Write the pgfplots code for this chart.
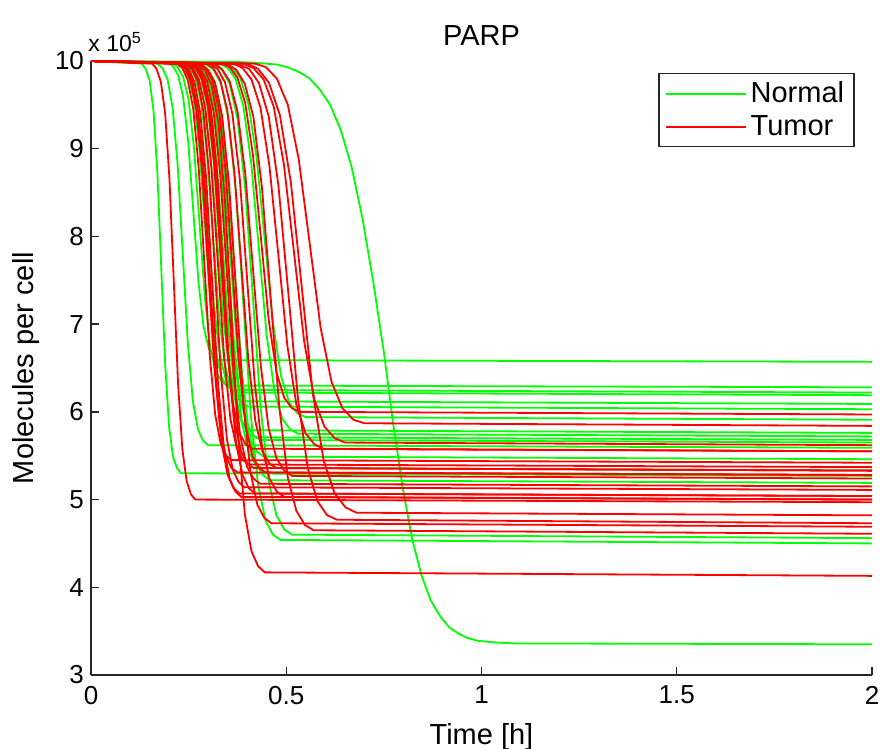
\documentclass[border=0pt]{standalone}
\usepackage{fontspec}
\setmainfont{Liberation Sans}
\usepackage{pgfplots}
\pgfplotsset{compat=1.18}
\tikzset{normal/.style={draw=green}, tumor/.style={draw=red}}
\begin{document}
\begin{tikzpicture}
\begin{axis}[
  name=ax,
  scale only axis, width=390.5pt, height=307pt,
  xmin=0, xmax=2, ymin=3, ymax=10,
  axis x line*=bottom, axis y line*=left,
  axis line style={-, line width=0.7pt, black!85},
  tick align=inside, major tick length=4pt,
  tick style={black!85, line width=0.7pt},
  xtick={0,0.5,1,1.5,2}, ytick={3,4,5,6,7,8,9,10},
  xticklabels={0,0.5,1,1.5,2},
  /pgf/number format/assume math mode=true,
  ticklabel style={font=\fontsize{13}{15}\selectfont},
  xticklabel style={yshift=-2pt},
  every axis x label/.style={at={(axis description cs:0.5,-0.114)}, anchor=base, font=\fontsize{14.5}{17}\selectfont},
  every axis y label/.style={at={(axis description cs:-0.073,0.5)}, rotate=90, anchor=base, font=\fontsize{14.5}{17}\selectfont},
  every axis title/.style={at={(axis description cs:0.5,1.026)}, anchor=base, font=\fontsize{14.5}{17}\selectfont},
  xlabel={Time [h]}, ylabel={Molecules per cell},
  title={PARP},
  clip=false,
  legend style={at={(0.978,0.9805)}, anchor=north east, draw=black!85, line width=0.7pt,
    font=\fontsize{14.5}{17}\selectfont, inner xsep=3pt, inner ysep=2pt, row sep=1pt},
  legend cell align=left,
  legend image code/.code={\path (0pt,0pt) -- (40pt,0pt); \draw[#1, line width=0.9pt] (3pt,0pt) -- (36pt,0pt);},
  every axis plot/.append style={line width=0.9pt},
]
% ---------------- Normal (green) ----------------
\addplot[normal] coordinates {(0,10) (0.13,9.97) (0.14,9.91) (0.15,9.78) (0.16,9.44) (0.17,8.73) (0.18,7.64) (0.19,6.54) (0.20,5.83) (0.21,5.49) (0.22,5.36) (0.23,5.30) (2,5.27)};
\addlegendentry{Normal}
\addplot[normal, forget plot] coordinates {(0,10) (0.170,9.97) (0.183,9.92) (0.196,9.79) (0.209,9.47) (0.222,8.81) (0.235,7.80) (0.248,6.78) (0.261,6.12) (0.274,5.80) (0.287,5.67) (0.300,5.62) (2,5.59)};
\addplot[normal, forget plot] coordinates {(0,10) (0.197,9.98) (0.210,9.94) (0.223,9.84) (0.236,9.59) (0.249,9.08) (0.262,8.29) (0.275,7.49) (0.288,6.98) (0.301,6.73) (0.314,6.63) (0.327,6.59) (2,6.57)};
\addplot[normal, forget plot] coordinates {(0,10) (0.208,9.98) (0.222,9.93) (0.236,9.82) (0.250,9.56) (0.264,9.00) (0.278,8.14) (0.292,7.28) (0.306,6.72) (0.320,6.46) (0.334,6.35) (0.348,6.30) (2,6.28)};
\addplot[normal, forget plot] coordinates {(0,10) (0.222,9.97) (0.236,9.93) (0.250,9.82) (0.264,9.55) (0.278,8.98) (0.292,8.11) (0.306,7.24) (0.320,6.67) (0.334,6.40) (0.348,6.29) (0.362,6.25) (2,6.22)};
\addplot[normal, forget plot] coordinates {(0,10) (0.225,9.97) (0.240,9.93) (0.255,9.82) (0.270,9.55) (0.285,8.98) (0.300,8.10) (0.315,7.21) (0.330,6.64) (0.345,6.37) (0.360,6.26) (0.375,6.22) (2,6.19)};
\addplot[normal, forget plot] coordinates {(0,10) (0.237,9.97) (0.252,9.93) (0.267,9.81) (0.282,9.53) (0.297,8.95) (0.312,8.05) (0.327,7.14) (0.342,6.56) (0.357,6.28) (0.372,6.16) (0.387,6.12) (2,6.09)};
\addplot[normal, forget plot] coordinates {(0,10) (0.242,9.97) (0.258,9.93) (0.274,9.81) (0.290,9.53) (0.306,8.93) (0.322,8.02) (0.338,7.10) (0.354,6.50) (0.370,6.22) (0.386,6.10) (0.402,6.06) (2,6.03)};
\addplot[normal, forget plot] coordinates {(0,10) (0.250,9.97) (0.266,9.92) (0.282,9.80) (0.298,9.49) (0.314,8.86) (0.330,7.88) (0.346,6.90) (0.362,6.27) (0.378,5.96) (0.394,5.84) (0.410,5.79) (2,5.76)};
\addplot[normal, forget plot] coordinates {(0,10) (0.258,9.97) (0.274,9.92) (0.290,9.80) (0.306,9.49) (0.322,8.84) (0.338,7.84) (0.354,6.84) (0.370,6.19) (0.386,5.88) (0.402,5.76) (0.418,5.71) (2,5.68)};
\addplot[normal, forget plot] coordinates {(0,10) (0.263,9.97) (0.280,9.92) (0.297,9.79) (0.314,9.48) (0.331,8.83) (0.348,7.83) (0.365,6.82) (0.382,6.17) (0.399,5.86) (0.416,5.73) (0.433,5.68) (2,5.65)};
\addplot[normal, forget plot] coordinates {(0,10) (0.273,9.97) (0.290,9.92) (0.307,9.78) (0.324,9.46) (0.341,8.78) (0.358,7.73) (0.375,6.68) (0.392,6.00) (0.409,5.68) (0.426,5.54) (0.443,5.49) (2,5.46)};
\addplot[normal, forget plot] coordinates {(0,10) (0.278,9.97) (0.296,9.91) (0.314,9.77) (0.332,9.43) (0.350,8.71) (0.368,7.60) (0.386,6.48) (0.404,5.76) (0.422,5.42) (0.440,5.28) (0.458,5.22) (2,5.19)};
\addplot[normal, forget plot] coordinates {(0,10) (0.295,9.96) (0.314,9.90) (0.333,9.74) (0.352,9.34) (0.371,8.52) (0.390,7.25) (0.409,5.98) (0.428,5.16) (0.447,4.76) (0.466,4.60) (0.485,4.54) (2,4.50)};
\addplot[normal, forget plot] coordinates {(0,10) (0.315,9.96) (0.335,9.90) (0.355,9.74) (0.375,9.35) (0.395,8.54) (0.415,7.28) (0.435,6.02) (0.455,5.21) (0.475,4.82) (0.495,4.66) (0.515,4.60) (2,4.56)};
\addplot[normal, forget plot] coordinates {(0,10) (0.330,9.97) (0.350,9.92) (0.370,9.80) (0.390,9.49) (0.410,8.85) (0.430,7.86) (0.450,6.87) (0.470,6.23) (0.490,5.92) (0.510,5.80) (0.530,5.75) (2,5.72)};
\addplot[normal, forget plot] coordinates {(0,10) (0.340,9.97) (0.361,9.93) (0.382,9.81) (0.403,9.51) (0.424,8.90) (0.445,7.96) (0.466,7.01) (0.487,6.40) (0.508,6.10) (0.529,5.98) (0.550,5.94) (2,5.91)};
\addplot[normal, forget plot] coordinates {(0,10) (0.267,9.97) (0.284,9.92) (0.301,9.78) (0.318,9.44) (0.335,8.74) (0.352,7.67) (0.369,6.59) (0.386,5.89) (0.403,5.55) (0.420,5.41) (0.437,5.36) (2,5.33)};
\addplot[normal, forget plot] coordinates {(0,10) (0.365,9.99) (0.420,9.98) (0.475,9.96) (0.5025,9.93) (0.530,9.88) (0.5575,9.81) (0.585,9.68) (0.6125,9.50) (0.640,9.21) (0.6675,8.79) (0.695,8.21) (0.7225,7.49) (0.750,6.68) (0.774,5.86) (0.798,5.14) (0.822,4.56) (0.846,4.14) (0.870,3.85) (0.894,3.67) (0.918,3.54) (0.942,3.47) (0.966,3.42) (0.990,3.39) (1.038,3.37) (1.086,3.36) (2,3.35)};
% ---------------- Tumor (red) ----------------
\addplot[tumor] coordinates {(0,10) (0.157,9.97) (0.168,9.91) (0.179,9.76) (0.190,9.40) (0.201,8.65) (0.212,7.49) (0.223,6.32) (0.234,5.57) (0.245,5.21) (0.256,5.06) (0.267,5.00) (2,4.97)};
\addlegendentry{Tumor}
\addplot[tumor, forget plot] coordinates {(0,10) (0.220,9.97) (0.234,9.92) (0.248,9.78) (0.262,9.45) (0.276,8.77) (0.290,7.71) (0.304,6.65) (0.318,5.97) (0.332,5.64) (0.346,5.50) (0.360,5.45) (2,5.42)};
\addplot[tumor, forget plot] coordinates {(0,10) (0.225,9.97) (0.240,9.92) (0.255,9.78) (0.270,9.44) (0.285,8.73) (0.300,7.64) (0.315,6.55) (0.330,5.84) (0.345,5.50) (0.360,5.36) (0.375,5.31) (2,5.28)};
\addplot[tumor, forget plot] coordinates {(0,10) (0.235,9.97) (0.250,9.91) (0.265,9.76) (0.280,9.40) (0.295,8.66) (0.310,7.50) (0.325,6.34) (0.340,5.60) (0.355,5.24) (0.370,5.09) (0.385,5.03) (2,5.00)};
\addplot[tumor, forget plot] coordinates {(0,10) (0.243,9.97) (0.258,9.91) (0.273,9.77) (0.288,9.42) (0.303,8.69) (0.318,7.56) (0.333,6.42) (0.348,5.69) (0.363,5.34) (0.378,5.20) (0.393,5.14) (2,5.11)};
\addplot[tumor, forget plot] coordinates {(0,10) (0.245,9.97) (0.261,9.92) (0.277,9.78) (0.293,9.45) (0.309,8.75) (0.325,7.69) (0.341,6.62) (0.357,5.92) (0.373,5.59) (0.389,5.45) (0.405,5.40) (2,5.37)};
\addplot[tumor, forget plot] coordinates {(0,10) (0.252,9.97) (0.268,9.92) (0.284,9.79) (0.300,9.47) (0.316,8.80) (0.332,7.78) (0.348,6.75) (0.364,6.08) (0.380,5.76) (0.396,5.63) (0.412,5.58) (2,5.55)};
\addplot[tumor, forget plot] coordinates {(0,10) (0.260,9.97) (0.276,9.91) (0.292,9.76) (0.308,9.41) (0.324,8.67) (0.340,7.52) (0.356,6.37) (0.372,5.63) (0.388,5.28) (0.404,5.13) (0.420,5.07) (2,5.04)};
\addplot[tumor, forget plot] coordinates {(0,10) (0.263,9.97) (0.280,9.91) (0.297,9.77) (0.314,9.42) (0.331,8.70) (0.348,7.58) (0.365,6.45) (0.382,5.73) (0.399,5.38) (0.416,5.24) (0.433,5.18) (2,5.15)};
\addplot[tumor, forget plot] coordinates {(0,10) (0.275,9.96) (0.292,9.89) (0.309,9.72) (0.326,9.30) (0.343,8.42) (0.360,7.07) (0.377,5.71) (0.394,4.83) (0.411,4.41) (0.428,4.24) (0.445,4.17) (2,4.13)};
\addplot[tumor, forget plot] coordinates {(0,10) (0.277,9.97) (0.294,9.92) (0.311,9.78) (0.328,9.44) (0.345,8.73) (0.362,7.64) (0.379,6.55) (0.396,5.84) (0.413,5.50) (0.430,5.36) (0.447,5.31) (2,5.28)};
\addplot[tumor, forget plot] coordinates {(0,10) (0.282,9.96) (0.300,9.90) (0.318,9.75) (0.336,9.37) (0.354,8.57) (0.372,7.35) (0.390,6.12) (0.408,5.32) (0.426,4.94) (0.444,4.79) (0.462,4.73) (2,4.69)};
\addplot[tumor, forget plot] coordinates {(0,10) (0.295,9.97) (0.313,9.92) (0.331,9.78) (0.349,9.44) (0.367,8.74) (0.385,7.67) (0.403,6.59) (0.421,5.89) (0.439,5.55) (0.457,5.41) (0.475,5.36) (2,5.33)};
\addplot[tumor, forget plot] coordinates {(0,10) (0.305,9.97) (0.324,9.91) (0.343,9.76) (0.362,9.40) (0.381,8.66) (0.400,7.50) (0.419,6.34) (0.438,5.60) (0.457,5.24) (0.476,5.09) (0.495,5.03) (2,5.00)};
\addplot[tumor, forget plot] coordinates {(0,10) (0.315,9.97) (0.335,9.91) (0.355,9.77) (0.375,9.43) (0.395,8.72) (0.415,7.62) (0.435,6.52) (0.455,5.81) (0.475,5.47) (0.495,5.33) (0.515,5.27) (2,5.24)};
\addplot[tumor, forget plot] coordinates {(0,10) (0.335,9.97) (0.355,9.93) (0.375,9.81) (0.395,9.52) (0.415,8.92) (0.435,7.99) (0.455,7.05) (0.475,6.45) (0.495,6.16) (0.515,6.04) (0.535,6.00) (2,5.97)};
\addplot[tumor, forget plot] coordinates {(0,10) (0.350,9.96) (0.372,9.90) (0.394,9.74) (0.416,9.36) (0.438,8.55) (0.460,7.31) (0.482,6.06) (0.504,5.25) (0.526,4.87) (0.548,4.71) (0.570,4.65) (2,4.61)};
\addplot[tumor, forget plot] coordinates {(0,10) (0.365,9.97) (0.388,9.92) (0.411,9.79) (0.434,9.47) (0.457,8.80) (0.480,7.78) (0.503,6.75) (0.526,6.08) (0.549,5.76) (0.572,5.63) (0.595,5.58) (2,5.55)};
\addplot[tumor, forget plot] coordinates {(0,10) (0.380,9.96) (0.405,9.91) (0.430,9.75) (0.455,9.37) (0.480,8.58) (0.505,7.37) (0.530,6.15) (0.555,5.36) (0.580,4.98) (0.605,4.82) (0.630,4.77) (2,4.73)};
\addplot[tumor, forget plot] coordinates {(0,10) (0.390,9.97) (0.416,9.92) (0.442,9.79) (0.468,9.48) (0.494,8.82) (0.520,7.81) (0.546,6.80) (0.572,6.14) (0.598,5.83) (0.624,5.70) (0.650,5.65) (2,5.62)};
\addplot[tumor, forget plot] coordinates {(0,10) (0.400,9.97) (0.428,9.91) (0.456,9.75) (0.484,9.38) (0.512,8.61) (0.540,7.41) (0.568,6.21) (0.596,5.44) (0.624,5.07) (0.652,4.91) (0.680,4.85) (2,4.82)};
\addplot[tumor, forget plot] coordinates {(0,10) (0.420,9.97) (0.448,9.93) (0.476,9.80) (0.504,9.50) (0.532,8.88) (0.560,7.92) (0.588,6.96) (0.616,6.34) (0.644,6.04) (0.672,5.91) (0.700,5.87) (2,5.84)};
\addplot[tumor, forget plot] coordinates {(0,10) (0.230,9.97) (0.245,9.91) (0.260,9.76) (0.275,9.41) (0.290,8.67) (0.305,7.52) (0.320,6.37) (0.335,5.63) (0.350,5.28) (0.365,5.13) (0.380,5.07) (2,5.04)};
\addplot[tumor, forget plot] coordinates {(0,10) (0.256,9.97) (0.272,9.92) (0.288,9.78) (0.304,9.44) (0.320,8.74) (0.336,7.67) (0.352,6.59) (0.368,5.89) (0.384,5.55) (0.400,5.41) (0.416,5.36) (2,5.33)};
\node[anchor=base west, inner sep=0pt, font=\fontsize{11.5}{14}\selectfont] at (rel axis cs:0,1) [xshift=-1.5pt, yshift=4.5pt] {x 10\textsuperscript{5}};
\end{axis}
\pgfresetboundingbox
\path ([shift={(-45.5pt,-37pt)}]ax.south west) rectangle ([shift={(4pt,30.5pt)}]ax.north east);
\end{tikzpicture}
\end{document}
